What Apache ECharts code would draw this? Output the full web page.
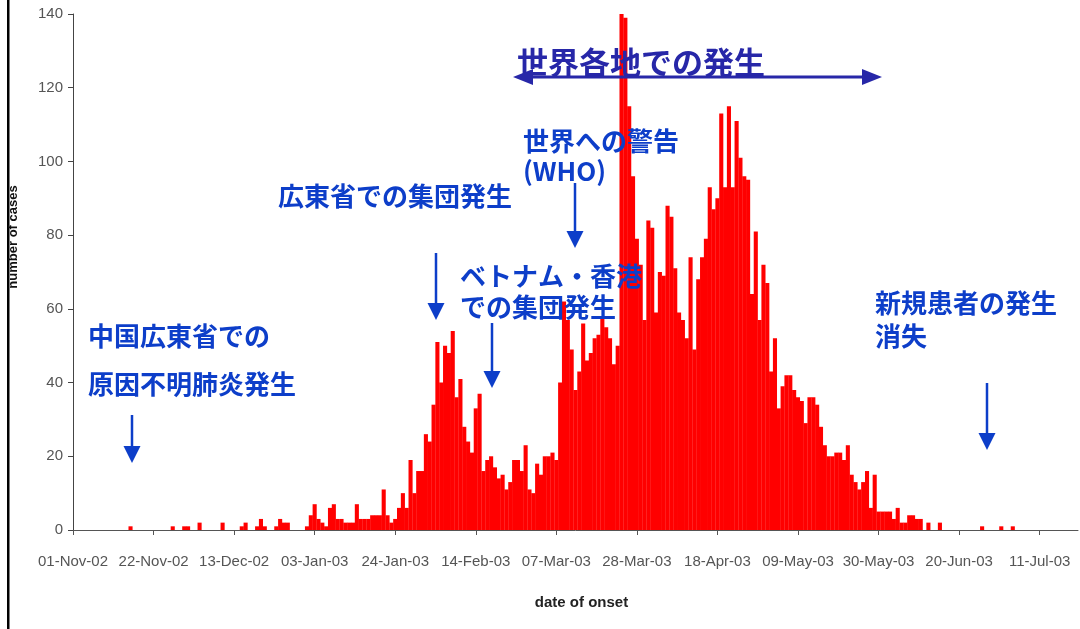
<!DOCTYPE html>
<html><head><meta charset="utf-8">
<script src="https://cdn.jsdelivr.net/npm/echarts/dist/echarts.min.js"></script>
<style>html,body{margin:0;padding:0;background:#fff}#c{width:1080px;height:629px}</style>
</head><body><div id="c"></div>
<script>
// Daily case counts by date of onset
const nov = [0,0,0,0,0,0,0,0,0,0, 0,0,0,0,0,1,0,0,0,0, 0,0,0,0,0,0,1,0,0,1];
const dec = [1,0,0,2,0,0,0,0,0,2, 0,0,0,0,1,2,0,0,1,3, 1,0,0,1,3,2,2,0,0,0, 0];
const jan = [1,4,7,3,2,1,6,7,3,3, 2,2,2,7,3,3,3,4,4,4, 11,4,2,3,6,10,6,19,10,16, 16];
const feb = [26,24,34,51,40,50,48,54,36,41, 28,24,21,33,37,16,19,20,17,14, 15,11,13,19,19,16,23,11];
const mar = [10,18,15,20,20,21,19,40,62,57, 49,38,43,56,46,48,52,53,58,55, 52,45,50,141,139,115,96,79,72,57, 84];
const apr = [82,59,70,69,88,85,71,59,57,52, 74,49,68,74,79,93,87,90,113,93, 115,93,111,101,96,95,64,81,57,72];
const may = [67,43,52,33,39,42,42,38,36,35, 29,36,36,34,28,23,20,20,21,21, 19,23,15,13,11,13,16,6,15,5, 5];
const jun = [5,5,3,6,2,2,4,4,3,3, 0,2,0,0,2,0,0,0,0,0, 0,0,0,0,0,1,0,0,0,0];
const jul = [1,0,0,1,0,0,0,0,0,0, 0,0,0,0,0,0,0,0,0,0, 0];

const monthNames = ['Jan','Feb','Mar','Apr','May','Jun','Jul','Aug','Sep','Oct','Nov','Dec'];
const labelEveryDays = 21;
const yMin = 0, yMax = 140, yStep = 20;

const counts = [].concat(nov, dec, jan, feb, mar, apr, may, jun, jul);
const categories = counts.map(function (_, i) {
  const d = new Date(Date.UTC(2002, 10, 1 + i));
  const dd = String(d.getUTCDate()).padStart(2, '0');
  return dd + '-' + monthNames[d.getUTCMonth()] + '-' + String(d.getUTCFullYear()).slice(2);
});

const BLUE = '#0d3ec9';
const NAVY = '#2727a8';
const JP = "'Noto Sans CJK JP', sans-serif";
const LAT = "'Liberation Sans', Arial, sans-serif";

function txt(s, x, y, size, color) {
  return { type: 'text', left: x, top: y - size / 2, z: 10,
    style: { text: s, fill: color || BLUE, font: 'bold ' + size + 'px ' + JP } };
}
function downArrow(x, y1, y2, color) {
  color = color || BLUE;
  return [
    { type: 'line', z: 10, shape: { x1: x, y1: y1, x2: x, y2: y2 - 14 }, style: { stroke: color, lineWidth: 2.5 } },
    { type: 'polygon', z: 10, shape: { points: [[x - 8.5, y2 - 17], [x + 8.5, y2 - 17], [x, y2]] }, style: { fill: color } }
  ];
}

const graphics = [
  { type: 'rect', shape: { x: 7, y: 0, width: 2.5, height: 629 }, style: { fill: '#000' } },
  txt('世界各地での発生', 517, 62, 31, NAVY),
  { type: 'line', z: 10, shape: { x1: 530, y1: 77, x2: 868, y2: 77 }, style: { stroke: NAVY, lineWidth: 3 } },
  { type: 'polygon', z: 10, shape: { points: [[513, 77], [533, 69], [533, 85]] }, style: { fill: NAVY } },
  { type: 'polygon', z: 10, shape: { points: [[882, 77], [862, 69], [862, 85]] }, style: { fill: NAVY } },
  txt('世界への警告', 523, 141, 26),
  txt('(WHO)', 523, 171, 26),
  txt('広東省での集団発生', 278, 196, 26),
  txt('ベトナム・香港', 460, 276, 26),
  txt('での集団発生', 460, 307, 26),
  txt('中国広東省での', 88, 336, 26),
  txt('原因不明肺炎発生', 88, 384, 26),
  txt('新規患者の発生', 875, 303, 26),
  txt('消失', 875, 336, 26)
].concat(
  downArrow(575, 183, 248),
  downArrow(436, 253, 320),
  downArrow(492, 323, 388),
  downArrow(132, 415, 463),
  downArrow(987, 383, 450)
);

const chart = echarts.init(document.getElementById('c'));
chart.setOption({
  backgroundColor: '#fff',
  animation: false,
  grid: { left: 73, right: 2, top: 14, bottom: 99, containLabel: false, outerBoundsMode: 'none' },
  xAxis: {
    type: 'category', data: categories, boundaryGap: false,
    axisLine: { lineStyle: { color: '#555', width: 1 } },
    axisTick: { interval: labelEveryDays - 1, length: 5, lineStyle: { color: '#555' } },
    axisLabel: { interval: labelEveryDays - 1, color: '#555', fontSize: 15, margin: 24, fontFamily: LAT },
    name: 'date of onset', nameLocation: 'middle', nameGap: 65,
    nameTextStyle: { color: '#222', fontSize: 15, fontWeight: 'bold', fontFamily: LAT, padding: [0, 0, 0, 12] }
  },
  yAxis: {
    type: 'value', min: yMin, max: yMax, interval: yStep,
    axisLine: { show: true, lineStyle: { color: '#444', width: 1 } },
    axisTick: { show: true, length: 5, lineStyle: { color: '#444' } },
    axisLabel: { color: '#555', fontSize: 15, margin: 10, fontFamily: LAT },
    splitLine: { show: false },
    name: 'number of cases', nameLocation: 'middle', nameGap: 53,
    nameTextStyle: { color: '#111', fontSize: 13, fontWeight: 'bold', fontFamily: LAT, padding: [0, 0, 0, 70] }
  },
  series: [{
    type: 'bar', data: counts, barWidth: 4.1, barCategoryGap: '0%',
    itemStyle: { color: '#ff0000' }, silent: true
  }],
  graphic: graphics
});
</script></body></html>
